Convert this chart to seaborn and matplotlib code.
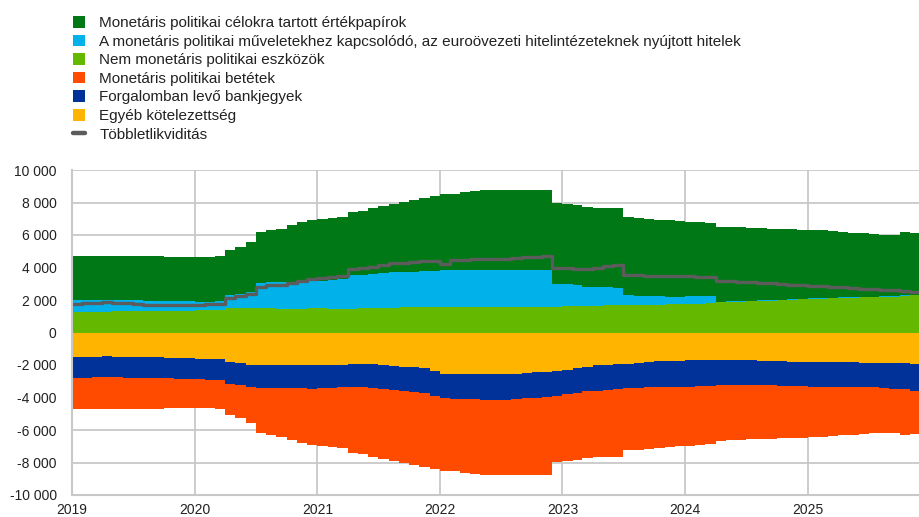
import numpy as np
import pandas as pd
import matplotlib
matplotlib.use("Agg")
import matplotlib.pyplot as plt
from matplotlib.patches import Patch
from matplotlib.lines import Line2D
from matplotlib.ticker import FuncFormatter, MultipleLocator
import seaborn as sns

# ---------------- data (monthly, Jan 2019 - Nov 2025) ----------------
start = "2019-01-01"
n_months = 83

# Nem monetáris politikai eszközök
nonmp_assets = [1250,1250,1270,1280,1300,1300,1320,1330,1330,1340,1350,1350,
                1360,1380,1400,1480,1500,1500,1500,1480,1470,1460,1470,1480,
                1480,1470,1460,1470,1480,1500,1520,1530,1540,1550,1550,1560,
                1560,1570,1580,1580,1590,1590,1600,1600,1600,1600,1600,1600,
                1610,1620,1640,1660,1680,1700,1700,1700,1710,1720,1740,1760,
                1760,1780,1800,1870,1880,1900,1920,1940,1960,1990,2020,2050,
                2070,2090,2110,2130,2150,2170,2180,2190,2200,2250,2280]
# A monetáris politikai műveletekhez kapcsolódó hitelek
mp_loans = [750,750,720,710,680,670,650,630,620,590,570,560,
            540,520,510,800,900,980,1540,1600,1630,1660,1680,1720,
            1720,1780,1840,2040,2070,2100,2130,2170,2170,2180,2210,2240,
            2260,2250,2240,2240,2230,2230,2220,2220,2220,2220,2220,1400,
            1380,1280,1190,1170,1120,1050,580,550,520,500,460,440,
            460,440,420,30,30,30,30,30,30,30,30,30,
            30,30,30,30,30,30,30,30,30,50,50]
# Monetáris politikai célokra tartott értékpapírok
mp_securities = [2700,2700,2700,2700,2720,2730,2730,2740,2730,2720,2740,2750,
                 2750,2740,2770,2820,2850,3070,3160,3220,3300,3480,3650,3700,
                 3800,3800,3800,3890,3950,4050,4150,4200,4340,4420,4540,4600,
                 4680,4730,4830,4880,4930,4960,4940,4930,4930,4920,4920,4950,
                 4910,4950,4870,4850,4870,4900,4820,4800,4770,4730,4700,4650,
                 4610,4580,4530,4620,4590,4550,4500,4460,4410,4360,4300,4250,
                 4220,4180,4110,4040,3970,3900,3840,3810,3790,3870,3790]
# Egyéb kötelezettség (negative side)
other_liab = [1520,1500,1480,1470,1480,1500,1510,1520,1530,1550,1570,1590,
              1600,1600,1620,1820,1900,1980,2030,2030,2030,2030,2030,2030,
              2030,2000,1970,1930,1930,1950,2000,2050,2100,2130,2200,2350,
              2540,2560,2570,2580,2580,2580,2570,2550,2500,2450,2400,2380,
              2300,2200,2100,2030,1980,1940,1930,1880,1820,1780,1760,1740,
              1720,1720,1710,1710,1710,1720,1720,1740,1760,1780,1800,1820,
              1820,1820,1820,1830,1840,1850,1860,1880,1890,1900,1930]
# Forgalomban levő bankjegyek (negative side)
banknotes = [1270,1270,1270,1270,1270,1270,1280,1280,1290,1280,1270,1260,
             1250,1300,1330,1340,1350,1370,1370,1370,1370,1370,1390,1420,
             1390,1400,1410,1440,1450,1470,1480,1500,1500,1520,1550,1550,
             1520,1520,1530,1540,1570,1580,1580,1550,1550,1550,1550,1500,
             1500,1500,1500,1540,1540,1530,1500,1520,1560,1580,1590,1600,
             1610,1580,1570,1550,1530,1500,1500,1500,1500,1500,1500,1500,
             1510,1510,1520,1520,1520,1520,1520,1520,1560,1600,1640]
# Monetáris politikai betétek (negative side)
mp_deposits = [1910,1930,1940,1950,1950,1930,1910,1900,1860,1820,1820,1810,
               1800,1740,1730,1940,2000,2200,2800,2900,3000,3200,3380,3450,
               3580,3650,3720,4030,4120,4230,4320,4350,4450,4500,4550,4500,
               4440,4470,4550,4580,4600,4620,4610,4650,4700,4740,4790,4070,
               4100,4150,4100,4110,4150,4180,3820,3800,3770,3740,3700,3660,
               3650,3640,3610,3420,3400,3380,3350,3310,3270,3230,3190,3150,
               3120,3090,3040,2980,2920,2870,2810,2770,2720,2800,2700]
# Többletlikviditás
excess_liq = [1780,1800,1830,1870,1840,1800,1760,1700,1680,1690,1720,1720,
              1720,1730,1770,2100,2250,2380,2830,2900,2950,3050,3150,3300,
              3340,3400,3500,3900,3950,4050,4150,4250,4300,4350,4380,4400,
              4200,4450,4470,4500,4520,4530,4550,4600,4620,4650,4680,4000,
              3950,3920,3920,4000,4100,4180,3550,3520,3500,3480,3470,3450,
              3450,3420,3400,3160,3150,3120,3100,3050,3020,3000,2950,2920,
              2890,2860,2830,2800,2750,2700,2650,2620,2600,2530,2480]

labels = ["Monetáris politikai célokra tartott értékpapírok",
          "A monetáris politikai műveletekhez kapcsolódó, az euroövezeti hitelintézeteknek nyújtott hitelek",
          "Nem monetáris politikai eszközök",
          "Monetáris politikai betétek",
          "Forgalomban levő bankjegyek",
          "Egyéb kötelezettség",
          "Többletlikviditás"]
year_ticks = [2019, 2020, 2021, 2022, 2023, 2024, 2025]

# ---------------- style ----------------
C_DG = "#007816"
C_CY = "#00B1EA"
C_LG = "#65B800"
C_RD = "#FF4B00"
C_BL = "#003299"
C_YE = "#FFB400"
C_LN = "#5C5C5C"
GRID = "#C8C8C8"

sns.set_theme(style="whitegrid")
plt.rcParams["font.family"] = ["Liberation Sans", "DejaVu Sans"]
plt.rcParams["axes.unicode_minus"] = False

fig = plt.figure(figsize=(9.2, 5.17), dpi=100)
ax = fig.add_axes([72/920, 1-495/517, 1-72/920, (495-170)/517])

edges = pd.date_range(start, periods=n_months + 1, freq="MS")

def ext(a):
    a = np.asarray(a, dtype=float)
    return np.append(a, a[-1])

lg = ext(nonmp_assets)
cy = ext(mp_loans)
dg = ext(mp_securities)
ye = ext(other_liab)
bl = ext(banknotes)
rd = ext(mp_deposits)

p1 = lg
p2 = p1 + cy
p3 = p2 + dg
n1 = -ye
n2 = n1 - bl
n3 = n2 - rd

kw = dict(step="post", linewidth=0)
ax.fill_between(edges, 0, p1, color=C_LG, **kw)
ax.fill_between(edges, p1, p2, color=C_CY, **kw)
ax.fill_between(edges, p2, p3, color=C_DG, **kw)
ax.fill_between(edges, 0, n1, color=C_YE, **kw)
ax.fill_between(edges, n1, n2, color=C_BL, **kw)
ax.fill_between(edges, n2, n3, color=C_RD, **kw)

line_df = pd.DataFrame({"date": edges, "value": ext(excess_liq)})
sns.lineplot(data=line_df, x="date", y="value", ax=ax, color=C_LN,
             linewidth=2.4, drawstyle="steps-post", legend=False)

ax.set_xlim(pd.Timestamp("2019-01-01"), pd.Timestamp("2025-12-01"))
ax.set_ylim(-10000, 10000)
ax.yaxis.set_major_locator(MultipleLocator(2000))
ax.yaxis.set_major_formatter(FuncFormatter(lambda v, p: f"{int(round(v)):,}".replace(",", " ")))
ax.set_xticks([pd.Timestamp(f"{y}-01-01") for y in year_ticks])
ax.set_xticklabels([str(y) for y in year_ticks])
ax.set_xlabel("")
ax.set_ylabel("")

ax.set_axisbelow(True)
ax.grid(True, color=GRID, linewidth=1.3)
for s in ["top", "right"]:
    ax.spines[s].set_visible(False)
for s in ["left", "bottom"]:
    ax.spines[s].set_visible(True)
    ax.spines[s].set_color(GRID)
    ax.spines[s].set_linewidth(1.5)
ax.set_facecolor("white")
ax.tick_params(axis="both", length=0, labelsize=10, labelcolor="#222222")
ax.tick_params(axis="y", pad=11)
ax.tick_params(axis="x", pad=6)

handles = [Patch(facecolor=C_DG, edgecolor="none"),
           Patch(facecolor=C_CY, edgecolor="none"),
           Patch(facecolor=C_LG, edgecolor="none"),
           Patch(facecolor=C_RD, edgecolor="none"),
           Patch(facecolor=C_BL, edgecolor="none"),
           Patch(facecolor=C_YE, edgecolor="none"),
           Line2D([0], [0], color=C_LN, linewidth=3.2)]
fig.legend(handles, labels, loc="upper left", bbox_to_anchor=(73/920, 1-16/517),
           frameon=False, fontsize=11, handlelength=0.8, handleheight=0.8,
           handletextpad=0.92, labelspacing=0.29, borderpad=0, borderaxespad=0,
           labelcolor="#222222")

fig.savefig("out.png", dpi=100)
